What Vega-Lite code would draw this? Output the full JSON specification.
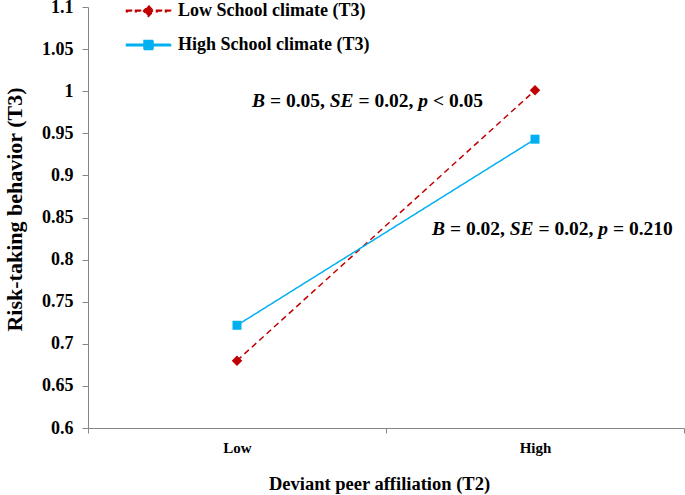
{
  "$schema": "https://vega.github.io/schema/vega-lite/v6.json",
  "width": 596,
  "height": 421,
  "autosize": "none",
  "padding": {"left": 88, "top": 7, "right": 1, "bottom": 67},
  "background": "white",
  "config": {
    "view": {"stroke": null},
    "font": "Liberation Serif",
    "axis": {"grid": false, "domainColor": "#868686", "tickColor": "#868686", "domainWidth": 1, "tickWidth": 1, "labelColor": "black", "titleColor": "black", "labelFont": "Liberation Serif", "titleFont": "Liberation Serif", "labelFontWeight": "bold", "titleFontWeight": "bold"}
  },
  "data": {"values": [
    {"climate": "Low School climate (T3)", "peer": "Low", "risk": 0.680},
    {"climate": "Low School climate (T3)", "peer": "High", "risk": 1.001},
    {"climate": "High School climate (T3)", "peer": "Low", "risk": 0.722},
    {"climate": "High School climate (T3)", "peer": "High", "risk": 0.943}
  ]},
  "encoding": {
    "x": {"field": "peer", "type": "nominal", "sort": ["Low", "High"],
      "scale": {"type": "band", "domain": ["Low", "High"], "paddingInner": 0, "paddingOuter": 0},
      "axis": {"title": "Deviant peer affiliation (T2)", "labelAngle": 0, "labelFontSize": 15, "titleFontSize": 18.5, "tickBand": "extent", "tickSize": 5, "labelPadding": 7, "titleX": 291, "titleY": 61, "titleBaseline": "alphabetic"}},
    "y": {"field": "risk", "type": "quantitative",
      "scale": {"domain": [0.6, 1.1], "nice": false, "zero": false},
      "axis": {"title": "Risk-taking behavior (T3)", "values": [0.6, 0.65, 0.7, 0.75, 0.8, 0.85, 0.9, 0.95, 1, 1.05, 1.1], "format": "~g", "labelFontSize": 18, "titleFontSize": 22, "tickSize": 6, "labelPadding": 9, "titleX": -74, "titleY": 202, "titleAngle": 270, "titleBaseline": "middle", "titleAlign": "center"}}
  },
  "layer": [
    {
      "mark": {"type": "line", "strokeWidth": 1.5},
      "encoding": {
        "color": {"field": "climate", "type": "nominal",
          "scale": {"domain": ["Low School climate (T3)", "High School climate (T3)"], "range": ["#C00000", "#00B0F0"]},
          "legend": {"title": null, "orient": "none", "legendX": 49.5, "legendY": -7, "padding": 0, "symbolSize": 400, "rowPadding": 14, "labelOffset": 18.5, "labelFont": "Liberation Serif", "labelFontSize": 18, "labelFontWeight": "bold", "labelColor": "black", "labelLimit": 400,
            "encode": {"symbols": {"update": {
              "shape": {"signal": "datum.value == 'Low School climate (T3)' ? 'M-2.2,-0.075H-1.7V0.075H-2.2ZM-1.3,-0.075H-0.8V0.075H-1.3ZM0.8,-0.075H1.3V0.075H0.8ZM1.7,-0.075H2.2V0.075H1.7ZM0,-0.55L0.5,0L0,0.55L-0.5,0Z' : 'M-2.2,-0.075H2.2V0.075H-2.2ZM-0.45,-0.45H0.45V0.45H-0.45Z'"},
              "fill": {"signal": "datum.value == 'Low School climate (T3)' ? '#C00000' : '#00B0F0'"},
              "stroke": {"value": "transparent"},
              "strokeDash": {"value": [1, 0]},
              "opacity": {"value": 1},
              "fillOpacity": {"value": 1}
            }}}}},
        "strokeDash": {"field": "climate", "type": "nominal",
          "scale": {"domain": ["Low School climate (T3)", "High School climate (T3)"], "range": [[6, 4], [1, 0]]},
          "legend": null}
      }
    },
    {
      "transform": [{"filter": "datum.climate == 'Low School climate (T3)'"}],
      "mark": {"type": "point", "filled": true, "opacity": 1, "shape": "diamond", "size": 110, "color": "#C00000"}
    },
    {
      "transform": [{"filter": "datum.climate == 'High School climate (T3)'"}],
      "mark": {"type": "point", "filled": true, "opacity": 1, "shape": "square", "size": 81, "color": "#00B0F0"}
    },
    {
      "data": {"values": [{"peer": "Low", "risk": 0.981, "b": "B", "s1": "= 0.05,", "se": "SE", "s2": "= 0.02,", "p": "p", "s3": "< 0.05"}]},
      "layer": [
        {"mark": {"type": "text", "align": "left", "baseline": "alphabetic", "fontSize": 19.5, "fontWeight": "bold", "fontStyle": "italic", "font": "Liberation Serif", "color": "black", "dx": 15}, "encoding": {"text": {"field": "b"}}},
        {"mark": {"type": "text", "align": "left", "baseline": "alphabetic", "fontSize": 19.5, "fontWeight": "bold", "font": "Liberation Serif", "color": "black", "dx": 32.9}, "encoding": {"text": {"field": "s1"}}},
        {"mark": {"type": "text", "align": "left", "baseline": "alphabetic", "fontSize": 19.5, "fontWeight": "bold", "fontStyle": "italic", "font": "Liberation Serif", "color": "black", "dx": 92.75}, "encoding": {"text": {"field": "se"}}},
        {"mark": {"type": "text", "align": "left", "baseline": "alphabetic", "fontSize": 19.5, "fontWeight": "bold", "font": "Liberation Serif", "color": "black", "dx": 121.5}, "encoding": {"text": {"field": "s2"}}},
        {"mark": {"type": "text", "align": "left", "baseline": "alphabetic", "fontSize": 19.5, "fontWeight": "bold", "fontStyle": "italic", "font": "Liberation Serif", "color": "black", "dx": 181.3}, "encoding": {"text": {"field": "p"}}},
        {"mark": {"type": "text", "align": "left", "baseline": "alphabetic", "fontSize": 19.5, "fontWeight": "bold", "font": "Liberation Serif", "color": "black", "dx": 196.0}, "encoding": {"text": {"field": "s3"}}}
      ]
    },
    {
      "data": {"values": [{"peer": "High", "risk": 0.829, "b": "B", "s1": "= 0.02,", "se": "SE", "s2": "= 0.02,", "p": "p", "s3": "= 0.210"}]},
      "layer": [
        {"mark": {"type": "text", "align": "left", "baseline": "alphabetic", "fontSize": 19.5, "fontWeight": "bold", "fontStyle": "italic", "font": "Liberation Serif", "color": "black", "dx": -103}, "encoding": {"text": {"field": "b"}}},
        {"mark": {"type": "text", "align": "left", "baseline": "alphabetic", "fontSize": 19.5, "fontWeight": "bold", "font": "Liberation Serif", "color": "black", "dx": -85.1}, "encoding": {"text": {"field": "s1"}}},
        {"mark": {"type": "text", "align": "left", "baseline": "alphabetic", "fontSize": 19.5, "fontWeight": "bold", "fontStyle": "italic", "font": "Liberation Serif", "color": "black", "dx": -25.25}, "encoding": {"text": {"field": "se"}}},
        {"mark": {"type": "text", "align": "left", "baseline": "alphabetic", "fontSize": 19.5, "fontWeight": "bold", "font": "Liberation Serif", "color": "black", "dx": 3.5}, "encoding": {"text": {"field": "s2"}}},
        {"mark": {"type": "text", "align": "left", "baseline": "alphabetic", "fontSize": 19.5, "fontWeight": "bold", "fontStyle": "italic", "font": "Liberation Serif", "color": "black", "dx": 63.3}, "encoding": {"text": {"field": "p"}}},
        {"mark": {"type": "text", "align": "left", "baseline": "alphabetic", "fontSize": 19.5, "fontWeight": "bold", "font": "Liberation Serif", "color": "black", "dx": 78.0}, "encoding": {"text": {"field": "s3"}}}
      ]
    }
  ]
}
